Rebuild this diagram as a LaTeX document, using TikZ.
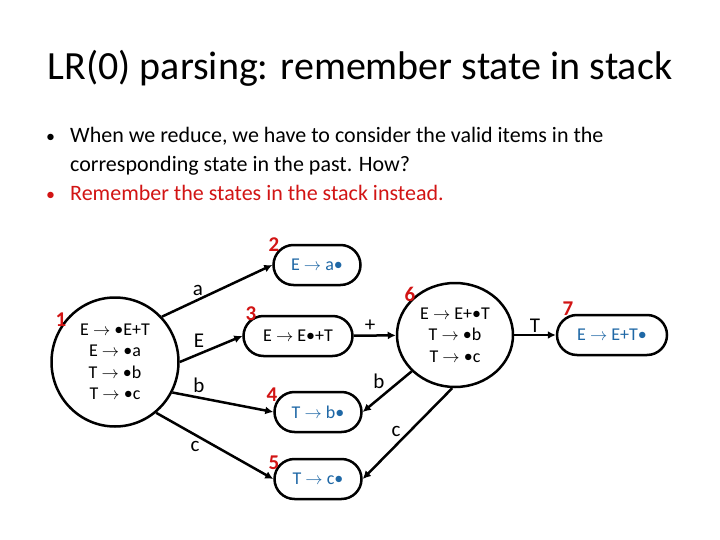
\documentclass[tikz,border=0pt]{standalone}
\usepackage{fontspec}
\setmainfont{Carlito}
\usetikzlibrary{arrows.meta,shapes.geometric}
\definecolor{itemblue}{RGB}{31,104,166}
\definecolor{lblred}{RGB}{210,20,20}
\begin{document}
\begin{tikzpicture}[x=1pt,y=-1pt,
  state/.style={draw,line width=2.5pt,inner sep=0pt,font=\fontsize{18}{21.5}\selectfont,align=center},
  roundst/.style={state,rectangle,rounded corners=20pt,minimum width=87pt,minimum height=40pt},
  bigst/.style={state,ellipse},
  edge/.style={line width=2.5pt,-{Latex[length=8pt,width=8pt]}},
  elbl/.style={font=\fontsize{21}{22}\selectfont},
  numlbl/.style={font=\fontsize{21}{22}\selectfont\bfseries,text=lblred},
  body/.style={font=\fontsize{22}{26}\selectfont,anchor=base west,inner sep=0pt}]
\useasboundingbox (0,0) rectangle (720,540);
\fill[white] (0,0) rectangle (720,540);
% title
\node[font=\fontsize{40}{46}\selectfont] (title) at (360,68) {LR(0) parsing: remember state in stack};
% bullets
\node[body,font=\fontsize{18}{26}\selectfont] (b1) at (46,143) {•};
\node[body] (t1) at (70,143) {When we reduce, we have to consider the valid items in the};
\node[body] (t2) at (70,172) {corresponding state in the past. How?};
\node[body,text=lblred,font=\fontsize{18}{26}\selectfont] (b2) at (46,201) {•};
\node[body,text=lblred] (t3) at (70,201) {Remember the states in the stack instead.};
% states
\node[bigst,minimum width=127pt,minimum height=129pt] (s1) at (115,362)
  {E $\rightarrow$ •E+T\\E $\rightarrow$ •a\\T $\rightarrow$ •b\\T $\rightarrow$ •c};
\node[roundst,text=itemblue] (s2) at (317,265) {E $\rightarrow$ a•};
\node[roundst,minimum width=109pt] (s3) at (298,336) {E $\rightarrow$ E•+T};
\node[roundst,text=itemblue] (s4) at (318,412) {T $\rightarrow$ b•};
\node[roundst,text=itemblue] (s5) at (318,479) {T $\rightarrow$ c•};
\node[bigst,minimum width=116pt,minimum height=104pt] (s6) at (455,335)
  {E $\rightarrow$ E+•T\\T $\rightarrow$ •b\\T $\rightarrow$ •c};
\node[roundst,minimum width=110pt,text=itemblue] (s7) at (612,335) {E $\rightarrow$ E+T•};
% state numbers
\node[numlbl] (n1) at (61,320) {1};
\node[numlbl] (n2) at (274,245) {2};
\node[numlbl] (n3) at (251,314) {3};
\node[numlbl] (n4) at (272,395) {4};
\node[numlbl] (n5) at (274,463) {5};
\node[numlbl] (n6) at (410,294) {6};
\node[numlbl] (n7) at (568,309) {7};
% edges
\draw[edge] (s1.44) -- (s2.west);
\draw[edge] (s1.east) -- (s3.west);
\draw[edge] (s1.-28) -- (s4.west);
\draw[edge] (s1.-51) -- (s5.west);
\draw[edge] (s3) -- (s6);
\draw[edge] (s6.-140) -- (s4.east);
\draw[edge] (s6.-93) -- (s5.east);
\draw[edge] (s6) -- (s7);
% edge labels
\node[elbl] (la) at (198,290) {a};
\node[elbl] (lE) at (199,341) {E};
\node[elbl] (lb1) at (199,385) {b};
\node[elbl] (lc1) at (195,446) {c};
\node[elbl] (lp) at (370,326) {+};
\node[elbl] (lb2) at (379,381) {b};
\node[elbl] (lc2) at (396,431) {c};
\node[elbl] (lT) at (535,326) {T};
\end{tikzpicture}
\end{document}
